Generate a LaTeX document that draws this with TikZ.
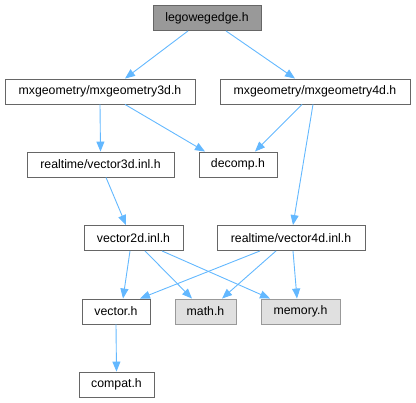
\documentclass[tikz,border=0pt]{standalone}
\usepackage{fontspec}
\setmainfont{Liberation Sans}
\usetikzlibrary{arrows.meta}
\definecolor{edgeblue}{HTML}{63B8FF}
\definecolor{boxborder}{HTML}{666666}
\definecolor{topfill}{HTML}{999999}
\definecolor{sysfill}{HTML}{E0E0E0}
\definecolor{sysborder}{HTML}{999999}
\tikzset{
  box/.style={draw=boxborder, fill=white, line width=0.9pt, minimum height=25pt, inner sep=0pt, font=\fontsize{12.3}{14}\selectfont, text=black},
  topbox/.style={box, fill=topfill},
  sysbox/.style={box, fill=sysfill, draw=sysborder},
  edge/.style={draw=edgeblue, line width=0.9pt, -{Triangle[length=10pt,width=8pt]}}
}
\begin{document}
\begin{tikzpicture}[x=1pt,y=-1pt]
\useasboundingbox (0,0) rectangle (416,403);
\node[topbox, minimum width=108pt] (lego) at (207,18) {legowegedge.h};
\node[box, minimum width=190pt] (mx3) at (100,91.5) {mxgeometry/mxgeometry3d.h};
\node[box, minimum width=190pt] (mx4) at (315,91.5) {mxgeometry/mxgeometry4d.h};
\node[box, minimum width=147pt] (v3) at (100.5,164.5) {realtime/vector3d.inl.h};
\node[box, minimum width=78pt] (dec) at (238,164.5) {decomp.h};
\node[box, minimum width=99pt] (v2) at (133.5,238) {vector2d.inl.h};
\node[box, minimum width=148pt] (v4) at (291,238) {realtime/vector4d.inl.h};
\node[box, minimum width=68pt] (vec) at (116,311.5) {vector.h};
\node[sysbox, minimum width=61pt] (math) at (205.5,311.5) {math.h};
\node[sysbox, minimum width=79pt] (mem) at (300.5,311.5) {memory.h};
\node[box, minimum width=75pt] (compat) at (116.5,384.5) {compat.h};

\draw[edge] ([xshift=-19pt]lego.south) -- ([xshift=25pt]mx3.north);
\draw[edge] ([xshift=19pt]lego.south) -- ([xshift=-20pt]mx4.north);
\draw[edge] (mx3.south) -- (v3.north);
\draw[edge] ([xshift=25pt]mx3.south) -- ([xshift=-33pt]dec.north);
\draw[edge] ([xshift=-13pt]mx4.south) -- ([xshift=17pt]dec.north);
\draw[edge] ([xshift=-2pt]mx4.south) -- ([xshift=2pt]v4.north);
\draw[edge] ([xshift=5.5pt]v3.south) -- ([xshift=-7.5pt]v2.north);
\draw[edge] ([xshift=-3.5pt]v2.south) -- ([xshift=7pt]vec.north);
\draw[edge] ([xshift=11.5pt]v2.south) -- ([xshift=-13.5pt]math.north);
\draw[edge] ([xshift=28.5pt]v2.south) -- ([xshift=-30.5pt]mem.north);
\draw[edge] ([xshift=-31pt]v4.south) -- ([xshift=24pt]vec.north);
\draw[edge] ([xshift=-15pt]v4.south) -- ([xshift=16.5pt]math.north);
\draw[edge] ([xshift=2pt]v4.south) -- ([xshift=-3.5pt]mem.north);
\draw[edge] (vec.south) -- (compat.north);
\end{tikzpicture}
\end{document}
